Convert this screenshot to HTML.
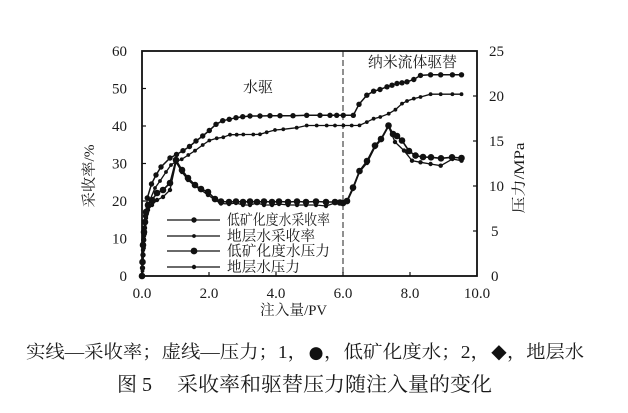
<!DOCTYPE html>
<html><head><meta charset="utf-8">
<style>
html,body{margin:0;padding:0;background:#fff;}
svg{display:block;}
.t{font-family:"Liberation Serif","Noto Serif CJK SC",serif;fill:#1a1a1a;}
.s{font-family:"DejaVu Sans",sans-serif;fill:#111;}
</style></head>
<body>
<svg width="628" height="413" viewBox="0 0 628 413" xmlns="http://www.w3.org/2000/svg">
<rect width="628" height="413" fill="#fff"/>
<!-- dashed divider -->
<line x1="343" y1="51" x2="343" y2="276" stroke="#555" stroke-width="1.3" stroke-dasharray="6,3"/>
<!-- frame -->
<rect x="142" y="51" width="335" height="225" fill="none" stroke="#111" stroke-width="1.8"/>
<g stroke="#111" stroke-width="1.2">
<line x1="142" y1="88.5" x2="146" y2="88.5"/><line x1="142" y1="126" x2="146" y2="126"/><line x1="142" y1="163.5" x2="146" y2="163.5"/><line x1="142" y1="201" x2="146" y2="201"/><line x1="142" y1="238.5" x2="146" y2="238.5"/>
<line x1="473" y1="96" x2="477" y2="96"/><line x1="473" y1="141" x2="477" y2="141"/><line x1="473" y1="186" x2="477" y2="186"/><line x1="473" y1="231" x2="477" y2="231"/>
<line x1="209" y1="276" x2="209" y2="272"/><line x1="276" y1="276" x2="276" y2="272"/><line x1="343" y1="276" x2="343" y2="272"/><line x1="410" y1="276" x2="410" y2="272"/>
</g>
<!-- tick labels -->
<g class="t" font-size="15" text-anchor="end">
<text x="127" y="56">60</text><text x="127" y="93.5">50</text><text x="127" y="131">40</text><text x="127" y="168.5">30</text><text x="127" y="206">20</text><text x="127" y="243.5">10</text><text x="127" y="281">0</text>
</g>
<g class="t" font-size="15" text-anchor="start">
<text x="489" y="56">25</text><text x="489" y="101">20</text><text x="489" y="146">15</text><text x="489" y="191">10</text><text x="491" y="236">5</text><text x="491" y="281">0</text>
</g>
<g class="t" font-size="15" text-anchor="middle">
<text x="142" y="298">0.0</text><text x="209" y="298">2.0</text><text x="276" y="298">4.0</text><text x="343" y="298">6.0</text><text x="410" y="298">8.0</text><text x="477" y="298">10.0</text>
</g>
<text class="t" x="260" y="315" font-size="14.5" textLength="67" lengthAdjust="spacingAndGlyphs">注入量/PV</text>
<text class="t" font-size="14.5" text-anchor="middle" dominant-baseline="central" transform="translate(90,176) rotate(-90)" textLength="63" lengthAdjust="spacingAndGlyphs">采收率/%</text>
<text class="t" font-size="14.5" text-anchor="middle" dominant-baseline="central" transform="translate(520,178) rotate(-90)" textLength="71" lengthAdjust="spacingAndGlyphs">压力/MPa</text>
<text class="t" x="243" y="92" font-size="15" textLength="30" lengthAdjust="spacingAndGlyphs">水驱</text>
<text class="t" x="368" y="67" font-size="15" textLength="89" lengthAdjust="spacingAndGlyphs">纳米流体驱替</text>

<!-- Series A: low-salinity recovery -->
<polyline fill="none" stroke="#111" stroke-width="1.5" points="142,276 142.5,268 143,255 143.7,240 144.5,228 145.5,216 147.3,198 151.5,184 156,175 161,167 170,158 176.5,154.5 183,150.7 189.5,146.5 196,141 202.7,136 209.3,130.5 216,124.3 222.7,120.7 229.3,119.3 236,117.7 242.7,116.7 250,116 260,116 270,115.7 280,115.7 293,115.7 306.7,115.3 320,115.3 330,115.3 336.7,115.3 343.3,115.3 353.3,115.3 359,104.3 366.8,95.2 373.6,91.2 380,89.5 387,86.8 392,85.2 397,83.5 402,82.8 407,81.8 413.8,79.5 420.5,75.4 430.6,74.8 440.7,74.8 452.4,74.8 461.5,74.8"/>
<g fill="#111">
<circle cx="142" cy="276" r="2.7"/><circle cx="142.5" cy="268" r="2.7"/><circle cx="143" cy="255" r="2.7"/><circle cx="143.7" cy="240" r="2.7"/><circle cx="144.5" cy="228" r="2.7"/><circle cx="145.5" cy="216" r="2.7"/><circle cx="147.3" cy="198" r="2.7"/><circle cx="151.5" cy="184" r="2.7"/><circle cx="156" cy="175" r="2.7"/><circle cx="161" cy="167" r="2.7"/><circle cx="170" cy="158" r="2.7"/><circle cx="176.5" cy="154.5" r="2.7"/><circle cx="183" cy="150.7" r="2.7"/><circle cx="189.5" cy="146.5" r="2.7"/><circle cx="196" cy="141" r="2.7"/><circle cx="202.7" cy="136" r="2.7"/><circle cx="209.3" cy="130.5" r="2.7"/><circle cx="216" cy="124.3" r="2.7"/><circle cx="222.7" cy="120.7" r="2.7"/><circle cx="229.3" cy="119.3" r="2.7"/><circle cx="236" cy="117.7" r="2.7"/><circle cx="242.7" cy="116.7" r="2.7"/><circle cx="250" cy="116" r="2.7"/><circle cx="260" cy="116" r="2.7"/><circle cx="270" cy="115.7" r="2.7"/><circle cx="280" cy="115.7" r="2.7"/><circle cx="293" cy="115.7" r="2.7"/><circle cx="306.7" cy="115.3" r="2.7"/><circle cx="320" cy="115.3" r="2.7"/><circle cx="330" cy="115.3" r="2.7"/><circle cx="336.7" cy="115.3" r="2.7"/><circle cx="343.3" cy="115.3" r="2.7"/><circle cx="353.3" cy="115.3" r="2.7"/><circle cx="359" cy="104.3" r="2.7"/><circle cx="366.8" cy="95.2" r="2.7"/><circle cx="373.6" cy="91.2" r="2.7"/><circle cx="380" cy="89.5" r="2.7"/><circle cx="387" cy="86.8" r="2.7"/><circle cx="392" cy="85.2" r="2.7"/><circle cx="397" cy="83.5" r="2.7"/><circle cx="402" cy="82.8" r="2.7"/><circle cx="407" cy="81.8" r="2.7"/><circle cx="413.8" cy="79.5" r="2.7"/><circle cx="420.5" cy="75.4" r="2.7"/><circle cx="430.6" cy="74.8" r="2.7"/><circle cx="440.7" cy="74.8" r="2.7"/><circle cx="452.4" cy="74.8" r="2.7"/><circle cx="461.5" cy="74.8" r="2.7"/>
</g>

<!-- Series B: formation water recovery -->
<polyline fill="none" stroke="#111" stroke-width="1.3" points="142,276 142.5,271 143,262 144,248 145,234 147,214 150,200 155,188 160,181 166,172 171,165 176,161.5 181.7,159.3 188.3,155 195,150.7 202.7,145 209.3,140.5 216.7,138.3 223.3,137.3 230,134.7 236.7,134.7 243.3,134.5 253.3,134.5 260,134.3 266.7,132.3 275,130 283.3,129.3 296.7,127.7 306.7,125.5 316.7,125.5 326.7,125.5 335,125.5 343.4,125.5 351.7,125.5 359.5,125.4 366.8,122.1 373.6,118.7 380.3,117 388.7,113.7 395.4,109.7 402,103.6 407,101 413.8,98.6 420.5,97 430.6,94.2 440.7,94.2 452.4,94.2 461.5,94.2"/>
<g fill="#111">
<circle cx="142.5" cy="271" r="1.9"/><circle cx="143" cy="262" r="1.9"/><circle cx="144" cy="248" r="1.9"/><circle cx="145" cy="234" r="1.9"/><circle cx="147" cy="214" r="1.9"/><circle cx="150" cy="200" r="1.9"/><circle cx="155" cy="188" r="1.9"/><circle cx="160" cy="181" r="1.9"/><circle cx="166" cy="172" r="1.9"/><circle cx="171" cy="165" r="1.9"/><circle cx="176" cy="161.5" r="1.9"/><circle cx="181.7" cy="159.3" r="1.9"/><circle cx="188.3" cy="155" r="1.9"/><circle cx="195" cy="150.7" r="1.9"/><circle cx="202.7" cy="145" r="1.9"/><circle cx="209.3" cy="140.5" r="1.9"/><circle cx="216.7" cy="138.3" r="1.9"/><circle cx="223.3" cy="137.3" r="1.9"/><circle cx="230" cy="134.7" r="1.9"/><circle cx="236.7" cy="134.7" r="1.9"/><circle cx="243.3" cy="134.5" r="1.9"/><circle cx="253.3" cy="134.5" r="1.9"/><circle cx="260" cy="134.3" r="1.9"/><circle cx="266.7" cy="132.3" r="1.9"/><circle cx="275" cy="130" r="1.9"/><circle cx="283.3" cy="129.3" r="1.9"/><circle cx="296.7" cy="127.7" r="1.9"/><circle cx="306.7" cy="125.5" r="1.9"/><circle cx="316.7" cy="125.5" r="1.9"/><circle cx="326.7" cy="125.5" r="1.9"/><circle cx="335" cy="125.5" r="1.9"/><circle cx="343.4" cy="125.5" r="1.9"/><circle cx="351.7" cy="125.5" r="1.9"/><circle cx="359.5" cy="125.4" r="1.9"/><circle cx="366.8" cy="122.1" r="1.9"/><circle cx="373.6" cy="118.7" r="1.9"/><circle cx="380.3" cy="117" r="1.9"/><circle cx="388.7" cy="113.7" r="1.9"/><circle cx="395.4" cy="109.7" r="1.9"/><circle cx="402" cy="103.6" r="1.9"/><circle cx="407" cy="101" r="1.9"/><circle cx="413.8" cy="98.6" r="1.9"/><circle cx="420.5" cy="97" r="1.9"/><circle cx="430.6" cy="94.2" r="1.9"/><circle cx="440.7" cy="94.2" r="1.9"/><circle cx="452.4" cy="94.2" r="1.9"/><circle cx="461.5" cy="94.2" r="1.9"/>
</g>

<!-- Series D: formation water pressure -->
<polyline fill="none" stroke="#111" stroke-width="1.3" points="142,276 143,250 144,236 146,218 148,210 152,205 157,200 163,197 170,190 176,162 182,172 188,180 195,186 201,190 208,195 215,200 221,203.5 229,204 236,203 243,205 250,205 257,203 264,205 272,205 279,204 288,205 297,205 306,205 316,205 326,206 335,203 340,203 343,203.5 347,202 353,189 359.5,172 367,163 375,147 381,140 388.5,126.5 395,142 404,150.6 412,160.7 420.5,162.3 430.6,164 440.7,165.7 452.4,159 461.5,160.7"/>
<g fill="#111">
<circle cx="143" cy="250" r="2.2"/><circle cx="144" cy="236" r="2.2"/><circle cx="146" cy="218" r="2.2"/><circle cx="148" cy="210" r="2.2"/><circle cx="152" cy="205" r="2.2"/><circle cx="157" cy="200" r="2.2"/><circle cx="163" cy="197" r="2.2"/><circle cx="170" cy="190" r="2.2"/><circle cx="176" cy="162" r="2.2"/><circle cx="182" cy="172" r="2.2"/><circle cx="188" cy="180" r="2.2"/><circle cx="195" cy="186" r="2.2"/><circle cx="201" cy="190" r="2.2"/><circle cx="208" cy="195" r="2.2"/><circle cx="215" cy="200" r="2.2"/><circle cx="221" cy="203.5" r="2.2"/><circle cx="229" cy="204" r="2.2"/><circle cx="236" cy="203" r="2.2"/><circle cx="243" cy="205" r="2.2"/><circle cx="250" cy="205" r="2.2"/><circle cx="257" cy="203" r="2.2"/><circle cx="264" cy="205" r="2.2"/><circle cx="272" cy="205" r="2.2"/><circle cx="279" cy="204" r="2.2"/><circle cx="288" cy="205" r="2.2"/><circle cx="297" cy="205" r="2.2"/><circle cx="306" cy="205" r="2.2"/><circle cx="316" cy="205" r="2.2"/><circle cx="326" cy="206" r="2.2"/><circle cx="335" cy="203" r="2.2"/><circle cx="340" cy="203" r="2.2"/><circle cx="347" cy="202" r="2.2"/><circle cx="353" cy="189" r="2.2"/><circle cx="359.5" cy="172" r="2.2"/><circle cx="367" cy="163" r="2.2"/><circle cx="375" cy="147" r="2.2"/><circle cx="381" cy="140" r="2.2"/><circle cx="388.5" cy="126.5" r="2.2"/><circle cx="395" cy="142" r="2.2"/><circle cx="404" cy="150.6" r="2.2"/><circle cx="412" cy="160.7" r="2.2"/><circle cx="420.5" cy="162.3" r="2.2"/><circle cx="430.6" cy="164" r="2.2"/><circle cx="440.7" cy="165.7" r="2.2"/><circle cx="452.4" cy="159" r="2.2"/><circle cx="461.5" cy="160.7" r="2.2"/>
</g>

<!-- Series C: low-salinity pressure -->
<polyline fill="none" stroke="#111" stroke-width="1.6" points="142,276 142.5,262 143,245 144,232 145,222 146,212 148,205 152,200 157,193 163,190 170,183 176,160 182,170 188,178 195,185 201,189 208,192 215,199 221,201.5 229,202 236,201.5 243,202 250,201.5 257,202 264,201.5 272,202 279,201.5 288,202 297,201.5 306,202 316,201.5 326,202 335,202 340,202.5 343,203 347,201 353,187.5 359.5,171 367,161 375,145.6 381,139 388.5,125.5 393,134 397,136 402,140.5 409,151 415.5,155.6 423,157 431,157.3 441,158.3 452,157.3 461.5,158"/>
<g fill="#111">
<circle cx="142" cy="276" r="3.3"/><circle cx="142.5" cy="262" r="3.3"/><circle cx="143" cy="245" r="3.3"/><circle cx="144" cy="232" r="3.3"/><circle cx="145" cy="222" r="3.3"/><circle cx="146" cy="212" r="3.3"/><circle cx="148" cy="205" r="3.3"/><circle cx="152" cy="200" r="3.3"/><circle cx="157" cy="193" r="3.3"/><circle cx="163" cy="190" r="3.3"/><circle cx="170" cy="183" r="3.3"/><circle cx="176" cy="160" r="3.3"/><circle cx="182" cy="170" r="3.3"/><circle cx="188" cy="178" r="3.3"/><circle cx="195" cy="185" r="3.3"/><circle cx="201" cy="189" r="3.3"/><circle cx="208" cy="192" r="3.3"/><circle cx="215" cy="199" r="3.3"/><circle cx="221" cy="201.5" r="3.3"/><circle cx="229" cy="202" r="3.3"/><circle cx="236" cy="201.5" r="3.3"/><circle cx="243" cy="202" r="3.3"/><circle cx="250" cy="201.5" r="3.3"/><circle cx="257" cy="202" r="3.3"/><circle cx="264" cy="201.5" r="3.3"/><circle cx="272" cy="202" r="3.3"/><circle cx="279" cy="201.5" r="3.3"/><circle cx="288" cy="202" r="3.3"/><circle cx="297" cy="201.5" r="3.3"/><circle cx="306" cy="202" r="3.3"/><circle cx="316" cy="201.5" r="3.3"/><circle cx="326" cy="202" r="3.3"/><circle cx="335" cy="202" r="3.3"/><circle cx="340" cy="202.5" r="3.3"/><circle cx="343" cy="203" r="3.3"/><circle cx="347" cy="201" r="3.3"/><circle cx="353" cy="187.5" r="3.3"/><circle cx="359.5" cy="171" r="3.3"/><circle cx="367" cy="161" r="3.3"/><circle cx="375" cy="145.6" r="3.3"/><circle cx="381" cy="139" r="3.3"/><circle cx="388.5" cy="125.5" r="3.3"/><circle cx="393" cy="134" r="3.3"/><circle cx="397" cy="136" r="3.3"/><circle cx="402" cy="140.5" r="3.3"/><circle cx="409" cy="151" r="3.3"/><circle cx="415.5" cy="155.6" r="3.3"/><circle cx="423" cy="157" r="3.3"/><circle cx="431" cy="157.3" r="3.3"/><circle cx="441" cy="158.3" r="3.3"/><circle cx="452" cy="157.3" r="3.3"/><circle cx="461.5" cy="158" r="3.3"/>
</g>

<!-- Legend -->
<g stroke="#111" stroke-width="1.3">
<line x1="167" y1="220" x2="220" y2="220"/>
<line x1="167" y1="236" x2="220" y2="236"/>
<line x1="167" y1="251" x2="220" y2="251"/>
<line x1="167" y1="267" x2="220" y2="267"/>
</g>
<g fill="#111">
<circle cx="194" cy="220" r="2.7"/>
<circle cx="194" cy="236" r="1.9"/>
<circle cx="194" cy="251" r="3.4"/>
<circle cx="194" cy="267" r="2.2"/>
</g>
<g class="t" font-size="14.5">
<text x="227" y="225" textLength="103" lengthAdjust="spacingAndGlyphs">低矿化度水采收率</text>
<text x="227" y="241" textLength="88" lengthAdjust="spacingAndGlyphs">地层水采收率</text>
<text x="227" y="256" textLength="103" lengthAdjust="spacingAndGlyphs">低矿化度水压力</text>
<text x="227" y="272" textLength="73" lengthAdjust="spacingAndGlyphs">地层水压力</text>
</g>

<!-- Caption -->
<text class="t" x="26" y="358" font-size="18" textLength="281" lengthAdjust="spacingAndGlyphs">实线—采收率；虚线—压力；1，</text>
<text class="s" x="316" y="358" font-size="17" text-anchor="middle">●</text>
<text class="t" x="324" y="358" font-size="18" textLength="166" lengthAdjust="spacingAndGlyphs">，低矿化度水；2，</text>
<text class="s" x="499" y="358" font-size="20" text-anchor="middle">◆</text>
<text class="t" x="507" y="358" font-size="18" textLength="77" lengthAdjust="spacingAndGlyphs">，地层水</text>
<text class="t" x="117" y="391" font-size="20">图 5</text>
<text class="t" x="177" y="391" font-size="20" textLength="315" lengthAdjust="spacingAndGlyphs">采收率和驱替压力随注入量的变化</text>
</svg>
</body></html>
